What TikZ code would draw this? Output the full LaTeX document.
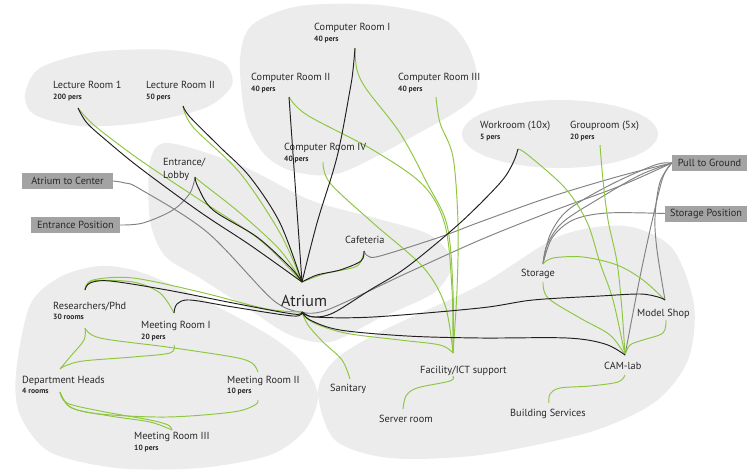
\documentclass[tikz,border=0pt]{standalone}
\usepackage{fontspec}
\setmainfont{PT Sans}
\begin{document}
\begin{tikzpicture}[x=1pt,y=-1pt,
  lbl/.style={inner sep=0pt,anchor=base west,text=txtc,font=\fontsize{10.3}{12}\selectfont},
  sublbl/.style={inner sep=0pt,anchor=base west,text=txtc,font=\fontsize{7.6}{9}\selectfont\bfseries},
  gbox/.style={fill=boxc,text=txtc,inner sep=0pt,minimum height=16pt,font=\fontsize{10.3}{12}\selectfont},
  blob/.style={fill=blobc,draw=none},
  gl/.style={draw=lgreen,line width=0.95pt},
  bl/.style={draw=ldark,line width=0.95pt},
  yl/.style={draw=lgray,line width=0.95pt},
  sm/.style={smooth,tension=0.55}]
\definecolor{blobc}{RGB}{236,236,236}
\definecolor{lgreen}{RGB}{141,198,63}
\definecolor{ldark}{RGB}{35,31,32}
\definecolor{lgray}{RGB}{130,130,130}
\definecolor{boxc}{RGB}{163,163,163}
\definecolor{txtc}{RGB}{40,40,40}
\useasboundingbox (0,0) rectangle (747,471);
\fill[white] (0,0) rectangle (747,471);
% blobs
\path[blob] plot[smooth cycle] coordinates {(25,95) (40,68) (95,52) (170,50) (222,62) (232,85) (205,108) (140,123) (80,126) (35,115)};
\path[blob] plot[smooth cycle] coordinates {(240,60) (252,25) (300,6) (380,5) (445,20) (472,55) (473,98) (410,138) (340,173) (295,172) (265,155) (246,120)};
\path[blob] (560,134) ellipse [x radius=98, y radius=34];
\path[blob] plot[smooth cycle] coordinates {(150,162) (168,143) (240,165) (310,200) (375,218) (430,235) (452,262) (435,292) (380,318) (330,342) (290,335) (250,310) (200,278) (165,256) (150,220)};
\path[blob] plot[smooth cycle] coordinates {(16,373) (30,305) (60,277) (100,266) (140,272) (200,298) (267,334) (300,360) (318,395) (305,430) (270,455) (200,468) (117,468) (50,452) (20,415)};
\path[blob] plot[smooth cycle] coordinates {(318,392) (335,360) (380,332) (480,285) (560,236) (625,226) (672,248) (694,305) (688,360) (655,402) (590,432) (480,455) (390,458) (335,440)};
% anchors
\coordinate (lr1) at (78,108);
\coordinate (lr2) at (183,106);
\coordinate (cr1) at (355,48);
\coordinate (cr2) at (289,97);
\coordinate (cr3) at (436,97);
\coordinate (cr4) at (323,162);
\coordinate (wr) at (518,149);
\coordinate (gr) at (600,145);
\coordinate (lob) at (195,177);
\coordinate (caf) at (364,251);
\coordinate (atT) at (302,282);
\coordinate (atB) at (302,312);
\coordinate (rpT) at (85,290);
\coordinate (rpB) at (85,328);
\coordinate (m1T) at (174,313);
\coordinate (m1B) at (174,345);
\coordinate (dhT) at (60,369);
\coordinate (dhB) at (60,392);
\coordinate (m2T) at (258,372);
\coordinate (m2B) at (258,400);
\coordinate (m3T) at (172,430);
\coordinate (sanT) at (350,379);
\coordinate (facT) at (453,353);
\coordinate (facB) at (453,376);
\coordinate (srvT) at (403,409);
\coordinate (camT) at (625,355);
\coordinate (camB) at (625,375);
\coordinate (bsT) at (549,403);
\coordinate (stT) at (543,264);
\coordinate (stB) at (543,282);
\coordinate (msT) at (665,300);
\coordinate (msB) at (666,320);
% boxes
\node[gbox,minimum width=91pt] (bAtC) at (67.5,181) {Atrium to Center};
\node[gbox,minimum width=89pt] (bEnP) at (75.5,225) {Entrance Position};
\node[gbox,minimum width=75pt] (bPull) at (709.5,163) {Pull to Ground};
\node[gbox,minimum width=82pt] (bStP) at (706,213.5) {Storage Position};
% gray connectors
\draw[yl] plot[sm] coordinates {(caf) (368,256) (380,256) (440,237) (480,222) (550,197) (620,176) (bPull.west)};
\draw[yl] plot[sm] coordinates {(atB) (327,310) (407,273) (480,240) (550,212) (620,186) (bPull.west)};
\draw[yl] plot[sm] coordinates {(bPull.west) (655,165) (610,185) (568,210) (550,235) (stT)};
\draw[yl] plot[sm] coordinates {(bPull.west) (640,175) (600,198) (563,222) (547,245) (stT)};
\draw[yl] plot[sm] coordinates {(bStP.west) (607,213) (573,220) (552,238) (stT)};
\draw[yl] plot[sm] coordinates {(bPull.west) (660,182) (655,217) (657,250) (msT)};
\draw[yl] plot[sm] coordinates {(bPull.west) (663,177) (653,217) (640,277) (camT)};
\draw[yl] plot[sm] coordinates {(bEnP.east) (143,223) (173,210) (190,193) (lob)};
\draw[yl] plot[sm] coordinates {(bAtC.east) (125,183) (140,189) (207,232) (273,300) (atB)};
% green connectors
\draw[gl] plot[sm] coordinates {(lr1) (95,126) (140,160) (200,200) (260,240) (atT)};
\draw[gl] plot[sm] coordinates {(lr2) (193,127) (240,173) (280,233) (atT)};
\draw[gl] plot[sm] coordinates {(lob) (202,183) (240,213) (280,250) (atT)};
\draw[gl] plot[sm] coordinates {(caf) (357,266) (327,273) (307,280) (atT)};
\draw[gl] plot[sm] coordinates {(cr1) (357,70) (367,90) (400,133) (427,183) (447,225) (453,290) (facT)};
\draw[gl] plot[sm] coordinates {(cr2) (307,115) (373,150) (423,185) (445,225) (452,290) (facT)};
\draw[gl] plot[sm] coordinates {(cr3) (440,123) (453,157) (458,223) (457,290) (facT)};
\draw[gl] plot[sm] coordinates {(cr4) (330,183) (373,223) (423,267) (445,305) (facT)};
\draw[gl] plot[sm] coordinates {(atB) (312,322) (345,333) (400,340) (440,345) (facT)};
\draw[gl] plot[sm] coordinates {(atB) (308,325) (323,342) (342,360) (sanT)};
\draw[gl] plot[sm] coordinates {(facB) (450,381) (417,388) (406,396) (srvT)};
\draw[gl] plot[sm] coordinates {(wr) (528,155) (565,188) (587,222) (600,263) (613,300) (camT)};
\draw[gl] plot[sm] coordinates {(gr) (603,180) (608,220) (617,262) (622,310) (camT)};
\draw[gl] plot[sm] coordinates {(stB) (548,298) (580,318) (610,335) (camT)};
\draw[gl] plot[sm] coordinates {(msB) (663,333) (643,340) (630,345) (camT)};
\draw[gl] plot[sm] coordinates {(stT) (553,258) (583,257) (617,265) (643,280) (msT)};
\draw[gl] plot[sm] coordinates {(camB) (618,382) (590,386) (560,388) (550,394) (bsT)};
\draw[gl] plot[sm] coordinates {(rpT) (93,280) (133,278) (200,292) (267,309) (atB)};
\draw[gl] plot[sm] coordinates {(rpT) (92,281) (133,282) (160,293) (m1T)};
\draw[gl] plot[sm] coordinates {(rpB) (84,340) (70,357) (dhT)};
\draw[gl] plot[sm] coordinates {(rpB) (100,338) (167,347) (233,357) (252,363) (m2T)};
\draw[gl] plot[sm] coordinates {(m1B) (170,353) (133,357) (83,361) (65,366) (dhT)};
\draw[gl] plot[sm] coordinates {(dhB) (67,403) (100,411) (150,420) (168,425) (m3T)};
\draw[gl] plot[sm] coordinates {(dhB) (72,408) (110,416) (150,422) (m3T)};
\draw[gl] plot[sm] coordinates {(dhB) (70,407) (100,414) (167,417) (233,412) (255,405) (m2B)};
% black connectors
\draw[bl] plot[sm] coordinates {(lr1) (87,123) (107,141) (140,168) (200,212) (250,245) (atT)};
\draw[bl] plot[sm] coordinates {(lr2) (190,117) (220,147) (250,177) (280,223) (atT)};
\draw[bl] plot[sm] coordinates {(lob) (198,187) (213,210) (257,237) (290,267) (atT)};
\draw[bl] (cr2) -- (atT);
\draw[bl] plot[sm] coordinates {(cr1) (353,70) (350,90) (337,157) (317,223) (atT)};
\draw[bl] plot[sm] coordinates {(caf) (361,261) (340,270) (317,275) (atT)};
\draw[bl] plot[sm] coordinates {(atB) (313,317) (333,313) (370,290) (407,267) (460,223) (500,183) (513,163) (wr)};
\draw[bl] plot[sm] coordinates {(atB) (315,317) (373,317) (480,308) (533,300) (600,296) (640,294) (658,297) (msT)};
\draw[bl] plot[sm] coordinates {(atB) (310,320) (340,330) (407,336) (480,338) (567,338) (605,344) (camT)};
\draw[bl] plot[sm] coordinates {(rpT) (90,283) (110,281) (167,290) (233,303) (293,314) (atB)};
\draw[bl] plot[sm] coordinates {(m1T) (177,304) (190,300) (233,307) (293,316) (atB)};
% labels
\node[lbl] (tLR1) at (53,88) {Lecture Room 1};
\node[sublbl] (sLR1) at (53,99) {200 pers};
\node[lbl] (tLR2) at (146,88) {Lecture Room II};
\node[sublbl] (sLR2) at (146,99) {50 pers};
\node[lbl] (tCR1) at (314,30) {Computer Room I};
\node[sublbl] (sCR1) at (314,41) {40 pers};
\node[lbl] (tCR2) at (251,80) {Computer Room II};
\node[sublbl] (sCR2) at (251,91) {40 pers};
\node[lbl] (tCR3) at (398,80) {Computer Room III};
\node[sublbl] (sCR3) at (398,91) {40 pers};
\node[lbl] (tCR4) at (284,150) {Computer Room IV};
\node[sublbl] (sCR4) at (284,161) {40 pers};
\node[lbl] (tWR) at (480,128) {Workroom (10x)};
\node[sublbl] (sWR) at (480,139) {5 pers};
\node[lbl] (tGR) at (570,128) {Grouproom (5x)};
\node[sublbl] (sGR) at (570,139) {20 pers};
\node[lbl] (tEnt) at (163,165) {Entrance/};
\node[lbl] (tLob) at (163,178) {Lobby};
\node[lbl] (tCaf) at (345,243) {Cafeteria};
\node[inner sep=0pt,anchor=base west,text=txtc,font=\fontsize{16}{19}\selectfont] (tAtr) at (281,306) {Atrium};
\node[lbl] (tRP) at (53,309) {Researchers/Phd};
\node[sublbl] (sRP) at (53,319) {30 rooms};
\node[lbl] (tM1) at (141,328) {Meeting Room I};
\node[sublbl] (sM1) at (141,339) {20 pers};
\node[lbl] (tDH) at (22,383) {Department Heads};
\node[sublbl] (sDH) at (22,393) {4 rooms};
\node[lbl] (tM2) at (227,383) {Meeting Room II};
\node[sublbl] (sM2) at (227,393) {10 pers};
\node[lbl] (tM3) at (134,439) {Meeting Room III};
\node[sublbl] (sM3) at (134,450) {10 pers};
\node[lbl] (tSan) at (330,391) {Sanitary};
\node[lbl] (tFac) at (420,373) {Facility/ICT support};
\node[lbl] (tSrv) at (379,422) {Server room};
\node[lbl] (tBS) at (510,416) {Building Services};
\node[lbl] (tCAM) at (604,369) {CAM-lab};
\node[lbl] (tSt) at (521,276) {Storage};
\node[lbl] (tMS) at (637,316) {Model Shop};
\end{tikzpicture}
\end{document}
